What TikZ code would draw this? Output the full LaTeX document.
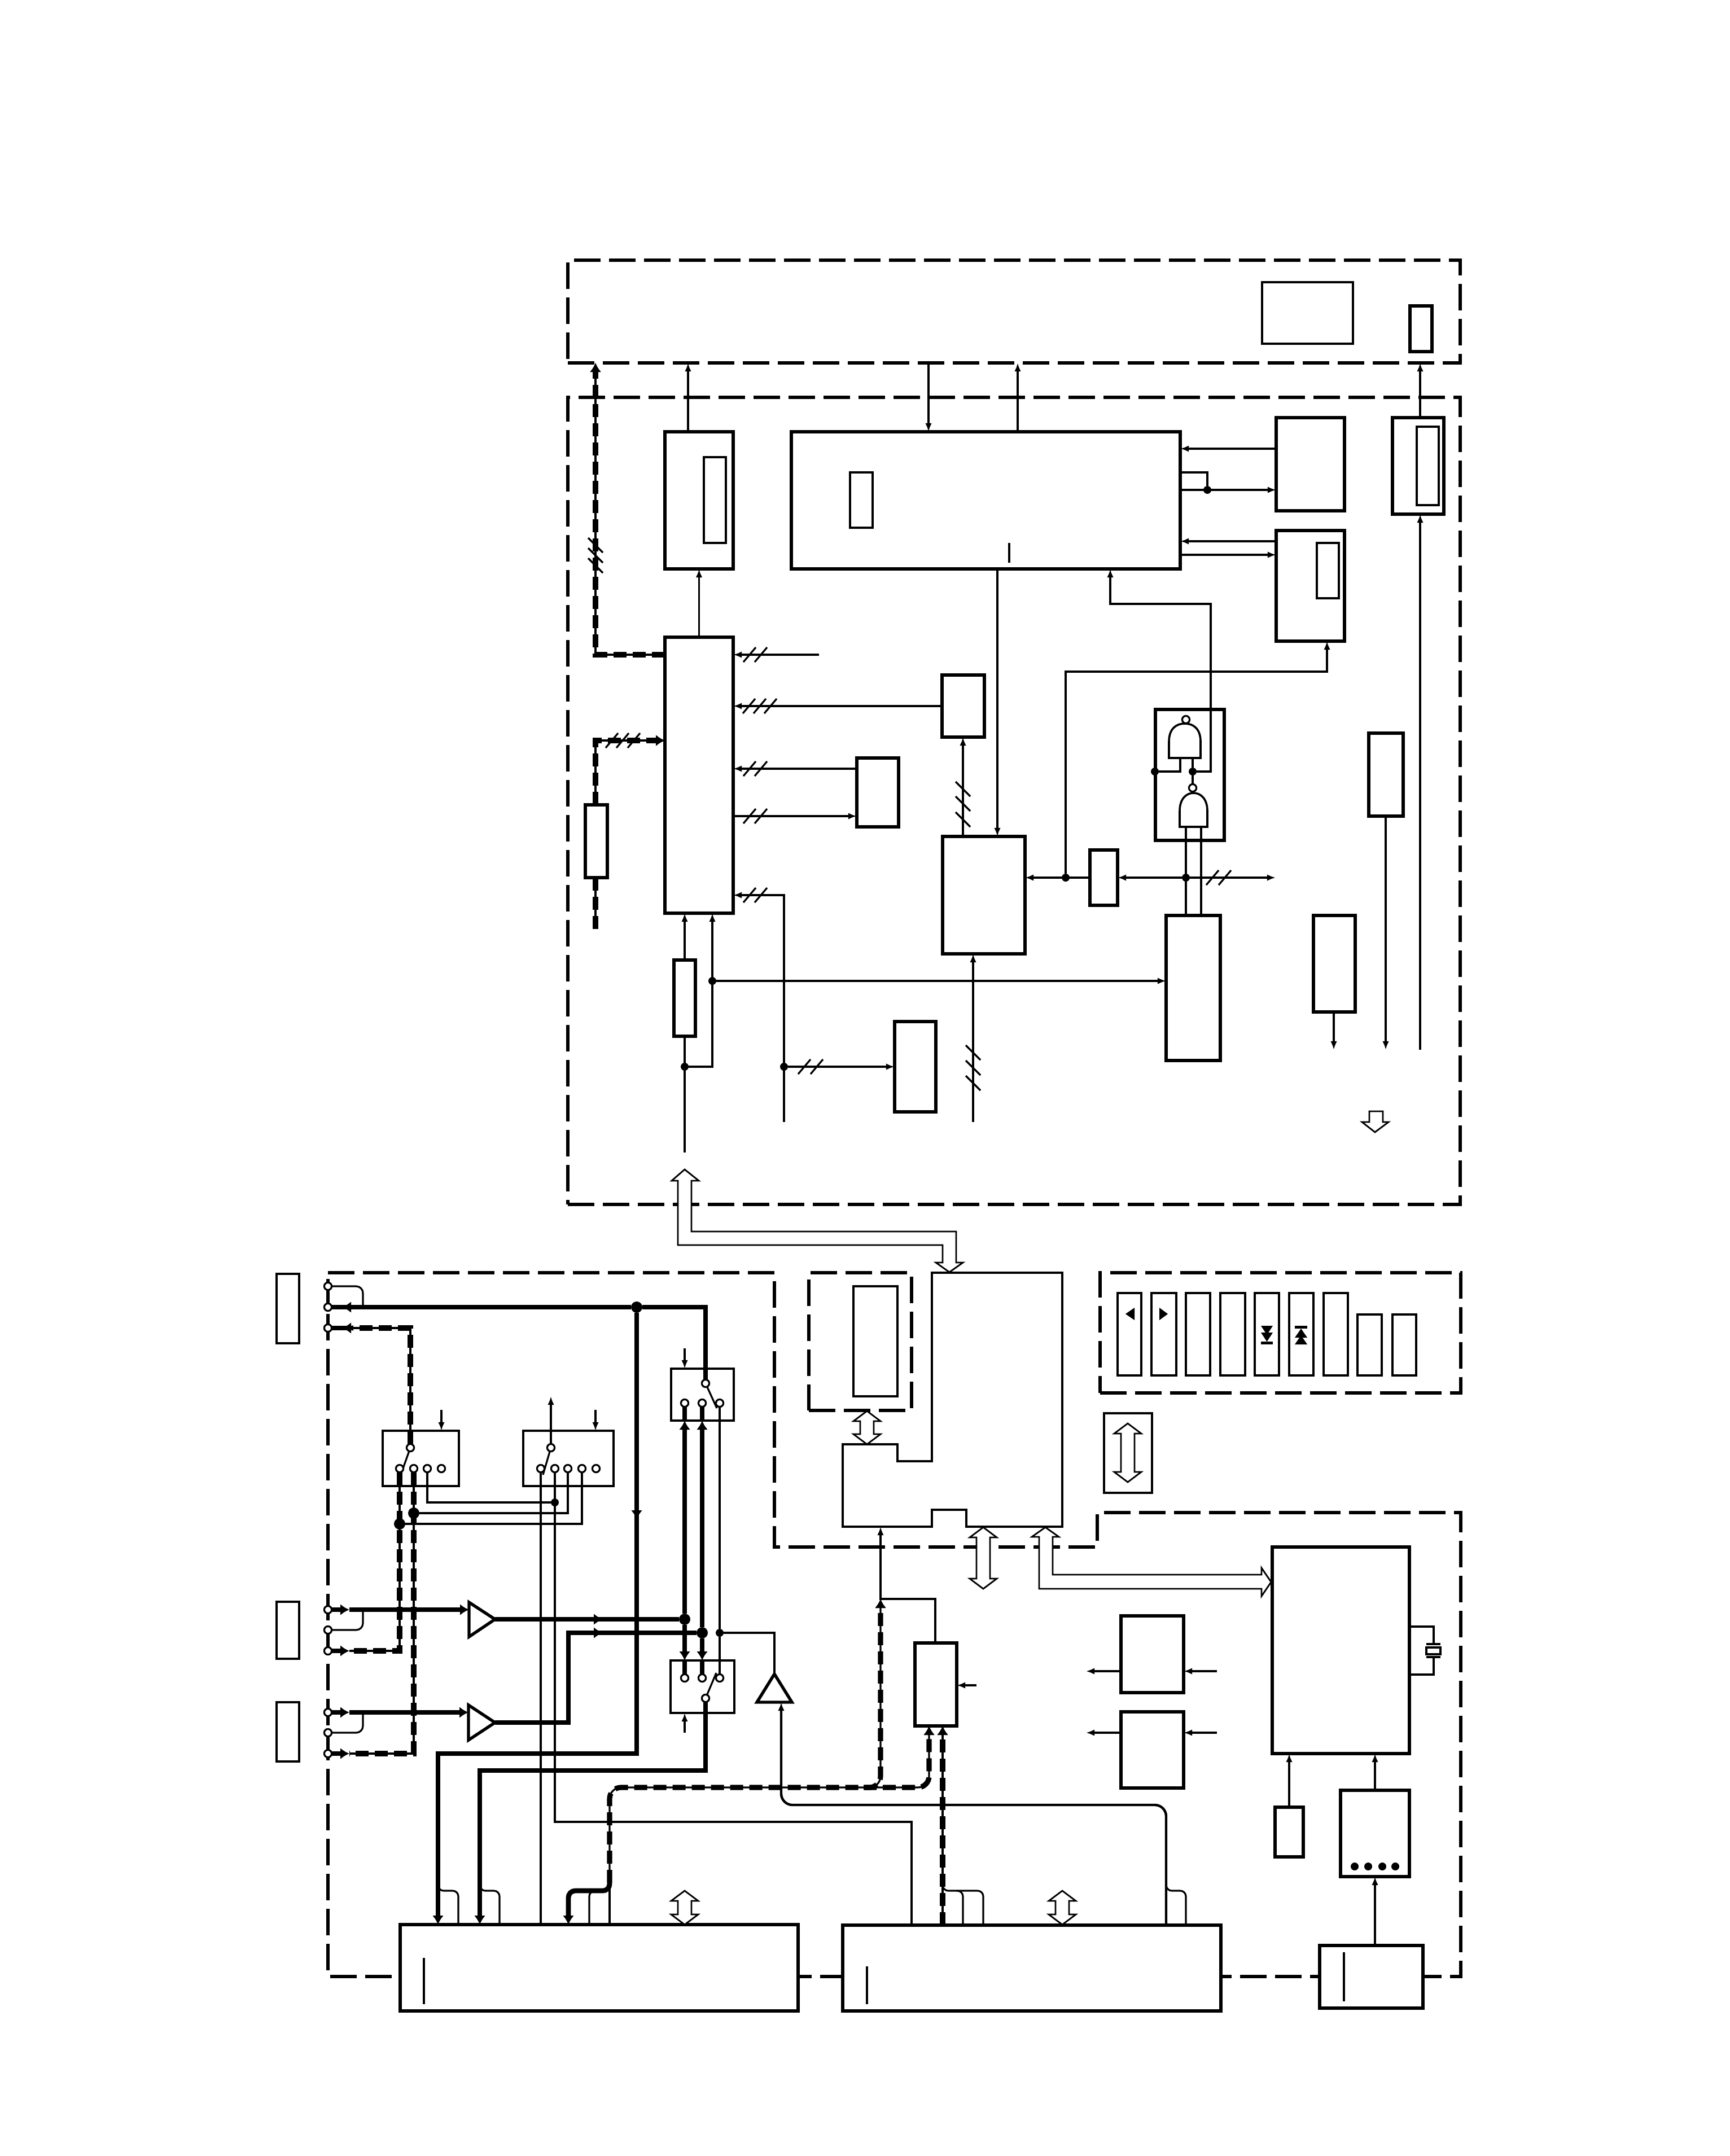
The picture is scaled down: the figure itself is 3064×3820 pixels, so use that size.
\documentclass[tikz,border=0pt]{standalone}
\usetikzlibrary{arrows.meta,fit,backgrounds}

\tikzset{every picture/.style={line width=0.75pt}}
\tikzset{
    tipS/.tip={Latex[length=3.8pt,width=2.9pt]},
    tipH/.tip={Latex[length=4pt,width=5pt]},
    blk/.style={draw,fill=white,line width=1.4pt,inner sep=0pt,outer sep=0pt},
    sw/.style={draw,line width=1.1pt,inner sep=0pt,outer sep=0pt},
    inbox/.style={draw,line width=0.8pt,fill=white,inner sep=0pt,outer sep=0pt},
    frm/.style={draw,line width=1.45pt,dash pattern=on 11.75pt off 3.75pt,inner sep=0pt,outer sep=0pt},
    wire/.style={line width=0.8pt},
    wireM/.style={line width=1.1pt},
    heavy/.style={line width=2.2pt},
    busline/.style={line width=0.8pt,postaction={draw,line width=2.3pt,dash pattern=on 5.75pt off 2.75pt}},
    term/.style={circle,draw,fill=white,line width=0.8pt,minimum size=3.3pt,inner sep=0pt,outer sep=0pt},
    jdot/.style={circle,fill=black,minimum size=3.5pt,inner sep=0pt,outer sep=0pt},
    jdotB/.style={circle,fill=black,minimum size=5pt,inner sep=0pt,outer sep=0pt},
    hollow/.style={draw,fill=white,line width=0.7pt,line join=miter},
    gate/.style={draw,fill=white,line width=0.9pt},
    amp/.style={draw,fill=white,line width=1.35pt,line join=miter}
}

\newcommand{\blkat}[6][blk]{\node[#1,fit={(#3,#4)(#5,#6)}] (#2) {};}
\newcommand{\hashh}[2]{\foreach \sx in {#1} \draw[wire] (\sx-11,#2+13) -- (\sx+11,#2-13);}
\newcommand{\hashv}[2]{\foreach \sy in {#2} \draw[wire] (#1-13,\sy-13) -- (#1+13,\sy+13);}
\newcommand{\busboth}[3]{\draw[hollow] (#1,#2) -- (#1+24,#2+18) -- (#1+12,#2+18) -- (#1+12,#3-18) -- (#1+24,#3-18) -- (#1,#3) -- (#1-24,#3-18) -- (#1-12,#3-18) -- (#1-12,#2+18) -- (#1-24,#2+18) -- cycle;}
\newcommand{\nandat}[5]{\draw[gate] (#1,#4) -- (#1,#3+32) .. controls (#1,#3+10) and (#1+12,#3) .. (#5,#3) .. controls (#2-12,#3) and (#2,#3+10) .. (#2,#3+32) -- (#2,#4) -- cycle;}

\begin{document}
\begin{tikzpicture}[x=0.25pt,y=0.25pt,yscale=-1,xscale=1]
    \useasboundingbox (0,0) rectangle (3064,3820);

    %Dashed frames
    \blkat[frm]{frmTop}{1006}{461}{2587}{643}
    \blkat[frm]{frmMain}{1006}{704}{2587}{2134}
    \blkat[frm]{frmKeys}{1949}{2255}{2588}{2468}
    \blkat[frm]{frmMem}{1433}{2255}{1615}{2499}

    %Shape: Rectangle, top row
    \blkat[inbox]{panel}{2236}{500}{2397}{609}
    \blkat{lamp}{2498}{542}{2537}{623}

    %Shape: Rectangle, upper frame
    \blkat{blkA}{1178}{765}{1299}{1008}
    \blkat[inbox]{blkAin}{1247}{810}{1286}{962}
    \blkat{cpu}{1402}{765}{2091}{1008}
    \blkat[inbox]{cpuin}{1506}{837}{1546}{935}
    \blkat{blkB}{2261}{740}{2382}{905}
    \blkat{blkC}{2261}{940}{2382}{1136}
    \blkat[inbox]{blkCin}{2333}{962}{2372}{1060}
    \blkat{blkD}{2467}{740}{2558}{911}
    \blkat[inbox]{blkDin}{2510}{756}{2549}{895}
    \blkat{blkE}{1178}{1129}{1299}{1618}
    \blkat{blkF}{1669}{1196}{1744}{1306}
    \blkat{blkH}{1037}{1426}{1076}{1555}
    \blkat{blkI}{1518}{1343}{1592}{1465}
    \blkat{blkG}{1670}{1482}{1816}{1690}
    \blkat{blkJ}{1931}{1506}{1980}{1604}
    \blkat[blk,fill=none]{blkK}{2047}{1257}{2169}{1489}
    \blkat{blkL}{2066}{1622}{2162}{1879}
    \blkat{blkM}{2327}{1622}{2401}{1793}
    \blkat{blkN}{2425}{1299}{2486}{1446}
    \blkat{blkO}{1194}{1701}{1232}{1836}
    \blkat{blkP}{1585}{1810}{1658}{1970}

    %Shape: Rectangle, keys
    \blkat[inbox]{keyA}{1980}{2291}{2022}{2437}
    \blkat[inbox]{keyB}{2040}{2291}{2084}{2437}
    \blkat[inbox]{keyC}{2101}{2291}{2144}{2437}
    \blkat[inbox]{keyD}{2162}{2291}{2206}{2437}
    \blkat[inbox]{keyE}{2223}{2291}{2266}{2437}
    \blkat[inbox]{keyF}{2284}{2291}{2327}{2437}
    \blkat[inbox]{keyG}{2345}{2291}{2388}{2437}
    \blkat[inbox]{keyH}{2405}{2329}{2448}{2437}
    \blkat[inbox]{keyI}{2467}{2329}{2509}{2437}
    \fill (1994,2328) -- (2010,2317) -- (2010,2339) -- cycle;
    \fill (2069,2328) -- (2054,2317) -- (2054,2339) -- cycle;
    \foreach \ty in {2349,2361} \fill (2234,\ty) -- (2255,\ty) -- (2244.5,\ty+16) -- cycle;
    \fill (2234,2377) rectangle (2255,2382);
    \fill (2294,2349) rectangle (2316,2354);
    \foreach \ty in {2354,2366} \fill (2294,\ty+16) -- (2316,\ty+16) -- (2305,\ty) -- cycle;

    %Shape: Rectangle, memory and legend
    \blkat[inbox]{memin}{1512}{2279}{1590}{2474}
    \blkat[inbox]{legend}{1956}{2504}{2041}{2645}
    \draw[inbox] (1651,2255) -- (1882,2255) -- (1882,2705) -- (1712,2705) -- (1712,2675) -- (1651,2675) -- (1651,2705) -- (1493,2705) -- (1493,2559) -- (1590,2559) -- (1590,2589) -- (1651,2589) -- cycle;
    \coordinate (ctlS) at (1560,2705);

    %Shape: Rectangle, connector blocks on the left
    \blkat[inbox]{jackA}{490}{2257}{530}{2380}
    \blkat[inbox]{jackB}{490}{2838}{530}{2939}
    \blkat[inbox]{jackC}{490}{3016}{530}{3121}

    %Shape: Rectangle, lower frame
    \blkat[sw]{swA}{678}{2535}{813}{2633}
    \blkat[sw]{swB}{927}{2535}{1087}{2633}
    \blkat[sw]{swC}{1189}{2425}{1300}{2517}
    \blkat[sw]{swD}{1188}{2942}{1301}{3035}
    \blkat{blkT}{1621}{2911}{1695}{3058}
    \blkat{blkR}{1986}{2863}{2097}{2999}
    \blkat{blkS}{1986}{3033}{2097}{3168}
    \blkat{blkQ}{2254}{2741}{2497}{3107}
    \blkat{blkW}{2375}{3172}{2497}{3325}
    \blkat{blkX}{2259}{3202}{2309}{3290}
    \blkat{blkY}{709}{3410}{1414}{3563}
    \blkat{blkU}{1493}{3411}{2163}{3563}
    \blkat{blkV}{2338}{3447}{2521}{3558}
    \blkat[inbox]{xtal}{2527}{2919}{2552}{2931}
    \foreach \dx in {2400,2424,2449,2472} \fill (\dx,3307) circle [radius=7];

    %Terminals
    \node[term] (tA1) at (581,2279) {};
    \node[term] (tA2) at (581,2316) {};
    \node[term] (tA3) at (581,2353) {};
    \node[term] (tB1) at (581,2852) {};
    \node[term] (tB2) at (581,2888) {};
    \node[term] (tB3) at (581,2925) {};
    \node[term] (tC1) at (581,3034) {};
    \node[term] (tC2) at (581,3070) {};
    \node[term] (tC3) at (581,3107) {};
    \node[term] (pivA) at (727,2565) {};
    \node[term] (sA1) at (708,2602) {};
    \node[term] (sA2) at (733,2602) {};
    \node[term] (sA3) at (757,2602) {};
    \node[term] (sA4) at (782,2602) {};
    \node[term] (pivB) at (976,2565) {};
    \node[term] (sB1) at (958,2602) {};
    \node[term] (sB2) at (983,2602) {};
    \node[term] (sB3) at (1006,2602) {};
    \node[term] (sB4) at (1031,2602) {};
    \node[term] (sB5) at (1056,2602) {};
    \node[term] (pivC) at (1250,2451) {};
    \node[term] (sC1) at (1213,2486) {};
    \node[term] (sC2) at (1244,2486) {};
    \node[term] (sC3) at (1275,2486) {};
    \node[term] (pivD) at (1250,3009) {};
    \node[term] (sD1) at (1213,2973) {};
    \node[term] (sD2) at (1244,2973) {};
    \node[term] (sD3) at (1275,2973) {};

    %Joints
    \node[jdot] (dotB) at (2139,868) {};
    \node[jdot] (dotNand) at (2113,1367) {};
    \node[jdot] (dotK) at (2046,1367) {};
    \node[jdot] (dotJ) at (1888,1555) {};
    \node[jdot] (dotL) at (2101,1555) {};
    \node[jdot] (dotO) at (1213,1890) {};
    \node[jdot] (dotLk) at (1262,1738) {};
    \node[jdot] (dotP) at (1389,1890) {};
    \node[jdot] (dotSw) at (983,2662) {};
    \node[jdotB] (dotA2) at (733,2681) {};
    \node[jdotB] (dotA1) at (708,2700) {};
    \node[jdotB] (dotTop) at (1128,2316) {};
    \node[jdotB] (dotC1) at (1213,2869) {};
    \node[jdotB] (dotC2) at (1244,2893) {};
    \node[jdot] (dotC3) at (1275,2893) {};

    %Free ends
    \coordinate (inA) at (1451,1160);
    \coordinate (outH) at (1055,1646);
    \coordinate (outL) at (2260,1555);
    \coordinate (outM) at (2363,1860);
    \coordinate (outN) at (2455,1860);
    \coordinate (inD) at (2516,1860);
    \coordinate (inO) at (1213,2042);
    \coordinate (inE) at (1389,1988);
    \coordinate (inG) at (1724,1988);
    \coordinate (ctlA) at (782,2498);
    \coordinate (ctlB) at (1055,2498);
    \coordinate (outB) at (976,2474);
    \coordinate (ctlC) at (1213,2389);
    \coordinate (ctlD) at (1213,3070);
    \coordinate (inT) at (1730,2986);
    \coordinate (inR) at (2156,2961);
    \coordinate (outR) at (1924,2961);
    \coordinate (inS) at (2156,3070);
    \coordinate (outS) at (1924,3070);

    %Gates
    \nandat{2071}{2127}{1282}{1343}{2099}
    \nandat{2090}{2139}{1405}{1465}{2114.5}
    \node[term] (bubA) at (2101,1275) {};
    \node[term] (bubB) at (2113,1396) {};

    %Amplifiers
    \draw[amp] (831,2839) -- (877,2869) -- (831,2900) -- cycle;
    \draw[amp] (830,3021) -- (877,3052) -- (830,3083) -- cycle;
    \draw[amp] (1372,2966) -- (1403,3016) -- (1341,3016) -- cycle;
    \coordinate (ampAin) at (831,2852);
    \coordinate (ampAout) at (877,2869);
    \coordinate (ampBin) at (830,3034);
    \coordinate (ampBout) at (877,3052);
    \coordinate (ampCtop) at (1372,2966);

    %Hollow buses
    \busboth{1536}{2500}{2559}
    \busboth{1998}{2522}{2626}
    \busboth{1742}{2706}{2815}
    \busboth{1213}{3350}{3410}
    \busboth{1882}{3350}{3410}
    \draw[hollow] (1213,2072) -- (1238,2092) -- (1225,2092) -- (1225,2182) -- (1694,2182) -- (1694,2237) -- (1706,2237) -- (1682,2254) -- (1658,2237) -- (1670,2237) -- (1670,2206) -- (1201,2206) -- (1201,2092) -- (1190,2092) -- cycle;
    \draw[hollow] (1852,2706) -- (1876,2723) -- (1865,2723) -- (1865,2790) -- (2235,2790) -- (2235,2778) -- (2252,2803) -- (2235,2828) -- (2235,2815) -- (1841,2815) -- (1841,2723) -- (1828,2723) -- cycle;
    \draw[hollow] (2426,1969) -- (2450,1969) -- (2450,1988) -- (2460,1988) -- (2436,2006) -- (2413,1988) -- (2426,1988) -- cycle;

    \begin{scope}[on background layer]
    %Lower dashed frame
    \draw[frm] (581,2255) -- (1372,2255) -- (1372,2741) -- (1944,2741) -- (1944,2680) -- (2588,2680) -- (2588,3502) -- (581,3502) -- cycle;

    %Straight Lines, upper frame
    \draw[busline,-{tipH}] (blkE.west |- 0,1160) -- (1055,1160) -- (1055,0 |- frmTop.south);
    \hashv{1055}{966,984,1002}
    \draw[wire,-{tipS}] (1219,0 |- blkA.north) -- (1219,0 |- frmTop.south);
    \draw[wire,-{tipS}] (1645,0 |- frmTop.south) -- (1645,0 |- cpu.north);
    \draw[wire,-{tipS}] (1803,0 |- cpu.north) -- (1803,0 |- frmTop.south);
    \draw[wire,-{tipS}] (2516,0 |- blkD.north) -- (2516,0 |- frmTop.south);
    \draw[wire,-{tipS}] (2516,0 |- inD) -- (2516,0 |- blkD.south);
    \draw[wire,-{tipS}] (blkE.north) -- (blkA.south);
    \draw[wire,-{tipS}] (blkB.west |- 0,795) -- (cpu.east |- 0,795);
    \draw[wire] (cpu.east |- 0,837) -- (2139,837) -- (dotB);
    \draw[wire,-{tipS}] (cpu.east |- 0,868) -- (blkB.west |- 0,868);
    \draw[wire,-{tipS}] (blkC.west |- 0,959) -- (cpu.east |- 0,959);
    \draw[wire,-{tipS}] (cpu.east |- 0,983) -- (blkC.west |- 0,983);
    \draw[wire,-{tipS}] (dotNand) -- (2145,1367) -- (2145,1070) -- (1967,1070) -- (1967,0 |- cpu.south);
    \draw[wire,-{tipS}] (dotJ) -- (1888,1190) -- (2351,1190) -- (2351,0 |- blkC.south);
    \draw[wire,-{tipS}] (1767,0 |- cpu.south) -- (1767,0 |- blkG.north);

    %Straight Lines, around the tall block
    \draw[wire,-{tipS}] (inA) -- (blkE.east |- inA);
    \hashh{1328,1348}{1160}
    \draw[wire,-{tipS}] (blkF.west |- 0,1251) -- (blkE.east |- 0,1251);
    \hashh{1327,1346,1365}{1251}
    \draw[busline,-{tipH}] (1055,0 |- blkH.north) -- (1055,1312) -- (blkE.west |- 0,1312);
    \hashh{1084,1103,1123}{1312}
    \draw[busline] (1055,0 |- blkH.south) -- (outH);
    \draw[wire,-{tipS}] (blkI.west |- 0,1362) -- (blkE.east |- 0,1362);
    \hashh{1328,1348}{1362}
    \draw[wire,-{tipS}] (blkE.east |- 0,1446) -- (blkI.west |- 0,1446);
    \hashh{1328,1348}{1446}
    \draw[wire,-{tipS}] (1706,0 |- blkG.north) -- (1706,0 |- blkF.south);
    \hashv{1706}{1398,1424,1452}
    \draw[wire,-{tipS}] (blkJ.west) -- (blkG.east |- blkJ.west);
    \draw[wire,-{tipS}] (dotL) -- (blkJ.east);
    \draw[wire,-{tipS}] (dotL) -- (outL);
    \hashh{2148,2170}{1555}

    %Straight Lines, gates
    \draw[wire] (2091,1343) -- (2091,1367) -- (dotK);
    \draw[wire] (2113,1343) -- (dotNand) -- (bubB);
    \draw[wire] (2101,1465) -- (2101,0 |- blkL.north);
    \draw[wire] (2128,1465) -- (2128,0 |- blkL.north);

    %Straight Lines, bottom of upper frame
    \draw[wire,-{tipS}] (2363,0 |- blkM.south) -- (outM);
    \draw[wire,-{tipS}] (2455,0 |- blkN.south) -- (outN);
    \draw[wire] (inO) -- (blkO.south);
    \draw[wire,-{tipS}] (blkO.north) -- (1213,0 |- blkE.south);
    \draw[wire,-{tipS}] (dotO) -- (1262,1890) -- (1262,0 |- blkE.south);
    \draw[wire,-{tipS}] (dotLk) -- (blkL.west |- dotLk);
    \draw[wire,-{tipS}] (inE) -- (1389,1586) -- (blkE.east |- 0,1586);
    \hashh{1328,1348}{1586}
    \draw[wire,-{tipS}] (dotP) -- (blkP.west |- dotP);
    \hashh{1425,1447}{1890}
    \draw[wire,-{tipS}] (inG) -- (1724,0 |- blkG.south);
    \hashv{1724}{1865,1892,1919}

    %Input terminals
    \draw[wire,rounded corners=3pt] (tA1) -- (643,2279) -- (643,2316);
    \draw[wire,rounded corners=3pt] (tB2) -- (643,2888) -- (643,2852);
    \draw[wire,rounded corners=3pt] (tC2) -- (643,3070) -- (643,3034);
    \draw[heavy] (dotTop) -- (tA2);
    \draw[heavy,-{tipH}] (640,2316) -- (606,2316);
    \draw[heavy] (tA3) -- (620,2353);
    \draw[heavy,-{tipH}] (625,2353) -- (606,2353);
    \draw[heavy,-{tipH}] (tB1) -- (619,2852);
    \draw[heavy,-{tipH}] (619,2852) -- (ampAin);
    \draw[heavy,-{tipH}] (tB3) -- (619,2925);
    \draw[heavy,-{tipH}] (tC1) -- (619,3034);
    \draw[heavy,-{tipH}] (619,3034) -- (ampBin);
    \draw[heavy,-{tipH}] (tC3) -- (619,3107);

    %Dual lines through the selector switches
    \draw[busline] (pivA) -- (727,2353) -- (625,2353);
    \draw[busline] (sA1) -- (708,2925) -- (619,2925);
    \draw[busline] (sA2) -- (733,3107) -- (619,3107);
    \draw[wire] (sA3) -- (757,2662) -- (dotSw);
    \draw[wire] (sB3) -- (1006,2681) -- (dotA2);
    \draw[wire] (sB4) -- (1031,2700) -- (dotA1);
    \draw[wire] (sB1) -- (958,0 |- blkY.north);
    \draw[wire] (sB2) -- (983,3228) -- (1615,3228) -- (1615,0 |- blkU.north);
    \draw[wire,-{tipS}] (pivB) -- (outB);
    \draw[wire,-{tipS}] (ctlA) -- (ctlA |- swA.north);
    \draw[wire,-{tipS}] (ctlB) -- (ctlB |- swB.north);
    \draw[wire] (pivA) -- (710,2613);
    \draw[wire] (pivB) -- (962,2613);
    \draw[wire] (pivC) -- (1270,2495);
    \draw[wire] (pivD) -- (1269,2964);

    %Heavy signal lines
    \draw[heavy] (dotTop) -- (1250,2316) -- (pivC);
    \draw[heavy,-{tipH}] (dotTop) -- (1128,3107) -- (776,3107) -- (776,0 |- blkY.north);
    \draw[heavy,-{tipH}] (dotTop) -- (1128,2692);
    \draw[heavy] (ampAout) -- (dotC1);
    \draw[heavy,-{tipH}] (ampAout) -- (1068,2869);
    \draw[heavy] (dotC2) -- (1007,2893) -- (1007,3052) -- (ampBout);
    \draw[heavy,-{tipH}] (1007,2893) -- (1068,2893);
    \draw[heavy,-{tipH}] (dotC1) -- (1213,0 |- swC.south);
    \draw[heavy] (1213,0 |- swC.south) -- (sC1);
    \draw[heavy,-{tipH}] (dotC1) -- (1213,0 |- swD.north);
    \draw[heavy] (1213,0 |- swD.north) -- (sD1);
    \draw[heavy,-{tipH}] (dotC2) -- (1244,0 |- swC.south);
    \draw[heavy] (1244,0 |- swC.south) -- (sC2);
    \draw[heavy,-{tipH}] (dotC2) -- (1244,0 |- swD.north);
    \draw[heavy] (1244,0 |- swD.north) -- (sD2);
    \draw[wire] (sC3) -- (dotC3) -- (sD3);
    \draw[wire] (dotC3) -- (1372,2893) -- (ampCtop);
    \draw[heavy,-{tipH}] (pivD) -- (1250,3137) -- (850,3137) -- (850,0 |- blkY.north);
    \draw[wire,-{tipS}] (ctlC) -- (ctlC |- swC.north);
    \draw[wire,-{tipS}] (ctlD) -- (ctlD |- swD.south);

    %Branches into the lower blocks
    \draw[wire,rounded corners=2.5pt] (776,3336) -- (776,3350) -- (812,3350) -- (812,0 |- blkY.north);
    \draw[wire,rounded corners=2.5pt] (850,3336) -- (850,3350) -- (885,3350) -- (885,0 |- blkY.north);
    \draw[heavy,rounded corners=3pt,-{tipH}] (1080,3336) -- (1080,3350) -- (1007,3350) -- (1007,0 |- blkY.north);
    \draw[wire,rounded corners=2.5pt] (1044,0 |- blkY.north) -- (1044,3350) -- (1058,3350);
    \draw[wire] (1080,3336) -- (1080,0 |- blkY.north);
    \draw[busline,rounded corners=5pt,-{tipH}] (1080,3336) -- (1080,3167) -- (1560,3167) -- (1560,2833);
    \draw[busline,rounded corners=5pt,-{tipH}] (1530,3167) -- (1646,3167) -- (1646,0 |- blkT.south);
    \draw[wire,-{tipS}] (1657,0 |- blkT.north) -- (1657,2833) -- (1560,2833) -- (ctlS);
    \draw[busline,-{tipH}] (1670,0 |- blkU.north) -- (1670,0 |- blkT.south);
    \draw[wire,rounded corners=2.5pt] (1670,3334) -- (1670,3350) -- (1742,3350) -- (1742,0 |- blkU.north);
    \draw[wire,rounded corners=2.5pt] (1695,3350) -- (1706,3350) -- (1706,0 |- blkU.north);
    \draw[wireM,rounded corners=5pt,-{tipS}] (2066,0 |- blkU.north) -- (2066,3198) -- (1384,3198) -- (1384,3016);
    \draw[wire,rounded corners=2.5pt] (2066,3335) -- (2066,3350) -- (2101,3350) -- (2101,0 |- blkU.north);

    %Straight Lines, right part of lower frame
    \draw[wire,-{tipS}] (inT) -- (blkT.east |- inT);
    \draw[wire,-{tipS}] (inR) -- (blkR.east |- inR);
    \draw[wire,-{tipS}] (blkR.west |- outR) -- (outR);
    \draw[wire,-{tipS}] (inS) -- (blkS.east |- inS);
    \draw[wire,-{tipS}] (blkS.west |- outS) -- (outS);
    \draw[wire,-{tipS}] (2284,0 |- blkX.north) -- (2284,0 |- blkQ.south);
    \draw[wire,-{tipS}] (2436,0 |- blkW.north) -- (2436,0 |- blkQ.south);
    \draw[wire,-{tipS}] (2436,0 |- blkV.north) -- (2436,0 |- blkW.south);
    \draw[wire] (blkQ.east |- 0,2882) -- (2540,2882) -- (2540,2913);
    \draw[wire] (blkQ.east |- 0,2967) -- (2540,2967) -- (2540,2936);
    \draw[wireM] (2527,2913) -- (2552,2913);
    \draw[wireM] (2527,2936) -- (2552,2936);
    \end{scope}

    %Marker lines inside the bottom blocks
    \coordinate (cpuTa) at (1788,962);
    \coordinate (cpuTb) at (1788,997);
    \coordinate (blkYa) at (751,3469);
    \coordinate (blkYb) at (751,3551);
    \coordinate (blkUa) at (1536,3484);
    \coordinate (blkUb) at (1536,3551);
    \coordinate (blkVa) at (2381,3459);
    \coordinate (blkVb) at (2381,3546);
    \draw[wire] (blkYa) -- (blkYb);
    \draw[wire] (blkUa) -- (blkUb);
    \draw[wire] (blkVa) -- (blkVb);
    \draw[wire] (cpuTa) -- (cpuTb);

\end{tikzpicture}
\end{document}
